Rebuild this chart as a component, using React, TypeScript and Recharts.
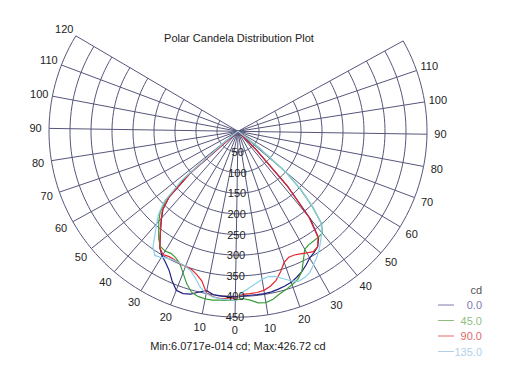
import React from 'react';
import { ScatterChart, Scatter, XAxis, YAxis, ReferenceLine } from 'recharts';

// vertical angles (deg from nadir) at which candela values were read
const ANGLES = [0, 2.5, 5, 7.5, 10, 12.5, 15, 17.5, 20, 22.5, 25, 27.5, 30, 32.5, 35, 37.5, 40, 42.5, 45, 47.5, 50, 52.5, 55, 57.5, 60];

// left half = C-plane, right half = opposite C-plane
const NAVY_LEFT = [401, 401, 401, 400, 393, 400, 410, 414, 412, 395, 375, 362, 352, 338, 316, 296, 278, 260, 228, 150, 0, 0, 0, 0, 0];
const NAVY_RIGHT = [400, 399, 398, 398, 398, 397, 394, 391, 387, 380, 372, 362, 351, 345, 338, 322, 272, 178, 65, 0, 0, 0, 0, 0, 0];
const GREEN_LEFT = [409, 410, 411, 413, 413, 411, 405, 388, 367, 349, 340, 336, 338, 335, 322, 304, 288, 270, 240, 170, 30, 0, 0, 0, 0];
const GREEN_RIGHT = [401, 405, 410, 418, 420, 415, 406, 400, 393, 386, 372, 348, 327, 322, 321, 320, 318, 300, 255, 205, 150, 60, 0, 0, 0];
const RED_LEFT = [404, 405, 407, 405, 398, 372, 360, 352, 350, 349, 346, 345, 348, 338, 316, 297, 279, 262, 228, 150, 0, 0, 0, 0, 0];
const RED_RIGHT = [396, 395, 394, 393, 390, 383, 372, 355, 336, 328, 328, 332, 337, 342, 338, 320, 268, 175, 60, 0, 0, 0, 0, 0, 0];
const CYAN_LEFT = [409, 409, 408, 406, 400, 388, 370, 356, 350, 348, 347, 350, 356, 360, 345, 318, 296, 275, 245, 180, 40, 0, 0, 0, 0];
const CYAN_RIGHT = [400, 390, 380, 371, 363, 359, 362, 372, 383, 391, 388, 382, 370, 358, 345, 330, 316, 298, 258, 208, 150, 60, 0, 0, 0];

const RINGS = [50, 100, 150, 200, 250, 300, 350, 400, 450];
const SPOKES = [-120, -110, -100, -90, -80, -70, -60, -50, -40, -30, -20, -10, 0, 10, 20, 30, 40, 50, 60, 70, 80, 90, 100, 110, 120];
const LEFT_TICKS = [0, 10, 20, 30, 40, 50, 60, 70, 80, 90, 100, 110, 120];
const RIGHT_TICKS = [10, 20, 30, 40, 50, 60, 70, 80, 90, 100, 110];
const LEGEND_NAMES = ['0.0', '45.0', '90.0', '135.0'];

const W = 510;
const H = 380;
const CX = 238;
const CY = 131.3;
const KX = 0.42; // px per cd horizontally
const KY = 0.413; // px per cd vertically (scan is slightly squashed)
const TILT = (0.9 * Math.PI) / 180; // scan is a little rotated
const R_MAX = 450;
const R_LABEL = 482;

const GRID = '#56567c';
const TEXT = '#222';
const FONT = '"Liberation Sans", Arial, sans-serif';

const SERIES = [
  { name: '0.0', left: NAVY_LEFT, right: NAVY_RIGHT, color: '#1f1f80', legend: '#7a7ab0' },
  { name: '45.0', left: GREEN_LEFT, right: GREEN_RIGHT, color: '#3a9e3a', legend: '#8fbf80' },
  { name: '90.0', left: RED_LEFT, right: RED_RIGHT, color: '#e8262a', legend: '#e06a6a' },
  { name: '135.0', left: CYAN_LEFT, right: CYAN_RIGHT, color: '#8ccfe8', legend: '#b0d0ea' },
];

function polar(deg: number, cd: number) {
  const t = (deg * Math.PI) / 180;
  const x = cd * Math.sin(t);
  const y = -cd * Math.cos(t);
  return {
    x: x * Math.cos(TILT) + y * Math.sin(TILT),
    y: -x * Math.sin(TILT) + y * Math.cos(TILT),
  };
}

function curve(left: number[], right: number[]) {
  const pts = [];
  for (let i = ANGLES.length - 1; i >= 0; i--) pts.push(polar(-ANGLES[i], left[i]));
  for (let i = 1; i < ANGLES.length; i++) pts.push(polar(ANGLES[i], right[i]));
  return pts;
}

function ring(r: number) {
  const pts = [];
  for (let a = -120; a <= 120; a += 2) pts.push(polar(a, r));
  return pts;
}

const NoDot = () => null;

const TextDot = (props: any) => {
  const { cx, cy, payload } = props;
  return (
    <text x={cx} y={cy} textAnchor="middle" dominantBaseline="central" fontSize={11} fill={TEXT} fontFamily={FONT}>
      {payload.label}
    </text>
  );
};

const angleLabels = [
  ...LEFT_TICKS.map((t) => ({ ...polar(-t, R_LABEL), label: String(t) })),
  ...RIGHT_TICKS.map((t) => ({ ...polar(t, R_LABEL), label: String(t) })),
];
const radialLabels = RINGS.map((r) => ({ ...polar(0, r), label: String(r) }));

export default function App() {
  const xDomain = [-CX / KX, (W - CX) / KX];
  const yDomain = [-(H - CY) / KY, CY / KY];

  return (
    <div style={{ position: 'absolute', left: 0, top: 0, width: W, height: H, background: '#fff', fontFamily: FONT }}>
      <ScatterChart width={W} height={H} margin={{ top: 0, right: 0, bottom: 0, left: 0 }}>
        <XAxis type="number" dataKey="x" domain={xDomain} hide allowDataOverflow />
        <YAxis type="number" dataKey="y" domain={yDomain} hide allowDataOverflow />
        {SPOKES.map((s) => (
          <ReferenceLine key={`sp${s}`} segment={[polar(s, 0), polar(s, R_MAX)]} stroke={GRID} strokeWidth={1} />
        ))}
        {RINGS.map((r) => (
          <Scatter
            key={`r${r}`}
            data={ring(r)}
            line={{ stroke: GRID, strokeWidth: 1 }}
            lineType="joint"
            shape={NoDot}
            isAnimationActive={false}
          />
        ))}
        {SERIES.map((s) => (
          <Scatter
            key={s.name}
            name={s.name}
            data={curve(s.left, s.right)}
            line={{ stroke: s.color, strokeWidth: 1.2 }}
            lineType="joint"
            shape={NoDot}
            isAnimationActive={false}
          />
        ))}
        <Scatter data={radialLabels} shape={TextDot} isAnimationActive={false} />
        <Scatter data={angleLabels} shape={TextDot} isAnimationActive={false} />
      </ScatterChart>
      <svg width={W} height={H} style={{ position: 'absolute', left: 0, top: 0, pointerEvents: 'none' }}>
        <text x={239} y={38} textAnchor="middle" dominantBaseline="central" fontSize={11} fill={TEXT} fontFamily={FONT}>
          Polar Candela Distribution Plot
        </text>
        <text x={238} y={346} textAnchor="middle" dominantBaseline="central" fontSize={11} fill={TEXT} fontFamily={FONT}>
          Min:6.0717e-014 cd; Max:426.72 cd
        </text>
        <text x={482} y={290} textAnchor="end" dominantBaseline="central" fontSize={11} fill="#555" fontFamily={FONT}>
          cd
        </text>
        {SERIES.map((s, i) => (
          <g key={s.name}>
            <line x1={438} x2={454} y1={305 + i * 15.5} y2={305 + i * 15.5} stroke={s.legend} strokeWidth={1} />
            <text x={482} y={305 + i * 15.5} textAnchor="end" dominantBaseline="central" fontSize={11} fill={s.legend} fontFamily={FONT}>
              {LEGEND_NAMES[i]}
            </text>
          </g>
        ))}
      </svg>
    </div>
  );
}
